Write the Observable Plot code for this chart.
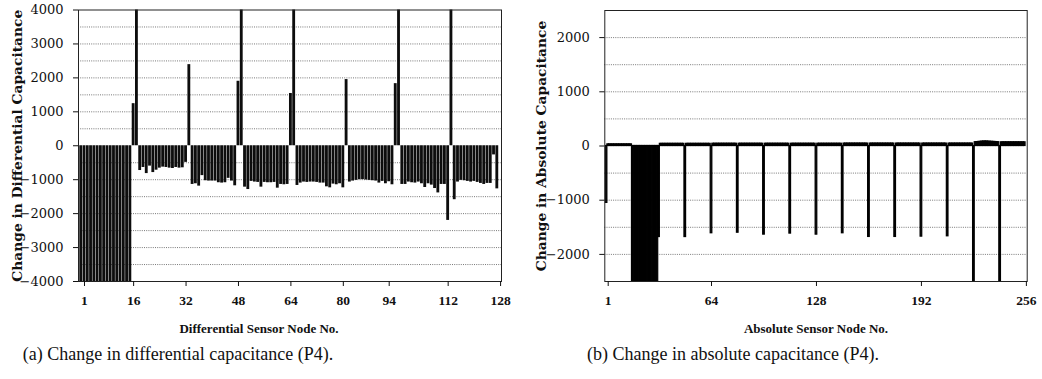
<!DOCTYPE html>
<html><head><meta charset="utf-8">
<script src="https://cdn.jsdelivr.net/npm/d3@7"></script>
<script src="https://cdn.jsdelivr.net/npm/@observablehq/plot@0.6"></script>
<style>
body{margin:0;background:#fff;}
#wrap{position:relative;width:1042px;height:379px;overflow:hidden;background:#fff;}
.panel{position:absolute;top:0;width:521px;}
.cap{position:absolute;top:343px;line-height:22px;font-family:"Liberation Serif",serif;font-size:18px;white-space:nowrap;color:#111;transform:translateX(-50%);}
</style></head><body>
<div id="wrap">
 <div class="panel" id="pa" style="left:0"></div>
 <div class="panel" id="pb" style="left:521px"></div>
 <div class="cap" id="capA" style="left:178px"></div>
 <div class="cap" id="capB" style="left:733px"></div>
</div>
<script>
// ---- Panel (a): differential capacitance ----
const diffTicks = [1, 16, 32, 48, 64, 80, 94, 112, 128];
const diffYTicks = [-4000, -3000, -2000, -1000, 0, 1000, 2000, 3000, 4000];
const diffGrid = [-3500, -3000, -2500, -2000, -1500, -1000, -500, 500, 1000, 1500, 2000, 2500, 3000, 3500];
const diffValues = [
  -4600, -4600, -4600, -4600, -4600, -4600, -4600, -4600, -4600, -4600, -4600, -4600, -4600, -4600, -4600, -4600,
  1240, 4600, -730, -640, -820, -600, -790, -720, -660, -630, -640, -660, -670, -640, -660, -650,
  -490, 2390, -1140, -1120, -1190, -880, -1030, -1040, -1040, -1040, -1090, -1100, -1090, -960, -1040, -1180,
  1900, 4600, -1220, -1290, -1050, -1070, -1080, -1220, -1080, -1090, -1090, -1080, -1250, -1140, -1150, -1140,
  1540, 4600, -1170, -1100, -1070, -1080, -1070, -1070, -1080, -1100, -1100, -1210, -1240, -1130, -1150, -1120,
  -1240, 1950, -1070, -1040, -1020, -1000, -1000, -1010, -1020, -1030, -1040, -1100, -1050, -1120, -1060, -1150,
  1830, 4600, -1140, -1140, -1070, -1090, -1100, -1070, -1120, -1230, -1120, -1160, -1260, -1390, -1140, -1140,
  -2200, 4600, -1590, -1070, -1020, -1030, -1050, -1070, -1050, -1080, -1110, -1140, -1110, -1110, -270, -1270
];
const diffYLabel = "Change in Differential Capacitance";
const diffXLabel = "Differential Sensor Node No.";
const diffCaption = "(a) Change in differential capacitance (P4).";

// ---- Panel (b): absolute capacitance ----
const absTicks = [1, 64, 128, 192, 256];
const absYTicks = [-2000, -1000, 0, 1000, 2000];
const absGrid = [-2000, -1500, -1000, -500, 500, 1000, 1500, 2000];
const absValues = [
  -1050, 30, 30, 30, 30, 30, 30, 30, 30, 30, 30, 30, 30, 30, 30, 30,
  -2800, -2800, -2800, -2800, -2800, -2800, -2800, -2800, -2800, -2800, -2800, -2800, -2800, -2800, -2800, -2800,
  -1680, 40, 40, 40, 40, 40, 40, 40, 40, 40, 40, 40, 40, 40, 40, 40,
  -1680, 40, 40, 40, 40, 40, 40, 40, 40, 40, 40, 40, 40, 40, 40, 40,
  -1610, 42, 42, 42, 42, 42, 42, 42, 42, 42, 42, 42, 42, 42, 42, 42,
  -1600, 42, 42, 42, 42, 42, 42, 42, 42, 42, 42, 42, 42, 42, 42, 42,
  -1635, 42, 42, 42, 42, 42, 42, 42, 42, 42, 42, 42, 42, 42, 42, 42,
  -1616, 42, 42, 42, 42, 42, 42, 42, 42, 42, 42, 42, 42, 42, 42, 42,
  -1635, 42, 42, 42, 42, 42, 42, 42, 42, 42, 42, 42, 42, 42, 42, 42,
  -1610, 45, 45, 45, 45, 45, 45, 45, 45, 45, 45, 45, 45, 45, 45, 45,
  -1678, 45, 45, 45, 45, 45, 45, 45, 45, 45, 45, 45, 45, 45, 45, 45,
  -1678, 45, 45, 45, 45, 45, 45, 45, 45, 45, 45, 45, 45, 45, 45, 45,
  -1672, 45, 45, 45, 45, 45, 45, 45, 45, 45, 45, 45, 45, 45, 45, 45,
  -1666, 45, 45, 45, 45, 45, 45, 45, 45, 45, 45, 45, 45, 45, 45, 45,
  -2800, 70, 72, 75, 78, 82, 84, 85, 84, 82, 80, 78, 76, 74, 72, 70,
  -2800, 68, 68, 68, 68, 68, 68, 68, 68, 68, 68, 68, 68, 68, 68, 68
];
const absYLabel = "Change in Absolute Capacitance";
const absXLabel = "Absolute Sensor Node No.";
const absCaption = "(b) Change in absolute capacitance (P4).";

const H = 340;
const fmt = d => d < 0 ? "\u2212" + Math.abs(d) : String(d);
const gridStyle = {stroke: "#444", strokeWidth: 0.9, strokeDasharray: "1,1.2", strokeOpacity: 0.8};
const svgStyle = {background: "white", color: "#111", overflow: "visible", fontFamily: "'DejaVu Serif', serif", fontSize: "12px"};

const diffData = diffValues.map((v, i) => ({node: i, value: v}));
const absData = absValues.map((v, i) => ({node: i, value: v}));

const plotA = Plot.plot({
  width: 521, height: H,
  marginLeft: 78, marginRight: 20, marginTop: 9.5, marginBottom: H - 281,
  x: {domain: [-0.83, 128.28]},
  y: {domain: [-4000, 4000]},
  style: svgStyle,
  marks: [
    Plot.ruleY(diffGrid, gridStyle),
    Plot.rectY(diffData, {x1: d => d.node - 0.5, x2: d => d.node + 0.5, y1: 0, y2: "value", fill: "#0d0d0d", insetLeft: 0.22, insetRight: 0.22, clip: true}),
    Plot.frame({stroke: "#222"}),
    Plot.axisY({ticks: diffYTicks, tickFormat: fmt, tickSize: 5, tickPadding: 10, fontSize: 13, label: null}),
    Plot.axisX({ticks: diffTicks, tickSize: 5, tickPadding: 9, fontFamily: "Liberation Serif", fontWeight: "bold", fontSize: 13.5, label: null}),
    Plot.text([diffYLabel], {text: d => d, frameAnchor: "left", textAnchor: "middle", lineAnchor: "middle", rotate: -90, dx: -61.3, fontWeight: "bold", fontSize: 13.8}),
    Plot.text([diffXLabel], {text: d => d, frameAnchor: "bottom", textAnchor: "middle", lineAnchor: "middle", dx: -31, dy: 47, fontFamily: "Liberation Serif", fontWeight: "bold", fontSize: 13})
  ]
});

const plotB = Plot.plot({
  width: 521, height: H,
  marginLeft: 83.3, marginRight: 15.3, marginTop: 10, marginBottom: H - 281,
  x: {domain: [-1.07, 256.5]},
  y: {domain: [-2500, 2500]},
  style: svgStyle,
  marks: [
    Plot.ruleY(absGrid, gridStyle),
    Plot.rectY(absData, {x1: d => d.node - 0.5, x2: d => d.node + 0.5, y1: 0, y2: "value", fill: "#000", stroke: "#000", strokeWidth: 1.2, clip: true}),
    Plot.frame({stroke: "#222"}),
    Plot.axisY({ticks: absYTicks, tickFormat: fmt, tickSize: 5, tickPadding: 10, fontSize: 13, label: null}),
    Plot.axisX({ticks: absTicks, tickSize: 5, tickPadding: 9, fontFamily: "Liberation Serif", fontWeight: "bold", fontSize: 13.5, label: null}),
    Plot.text([absYLabel], {text: d => d, frameAnchor: "left", textAnchor: "middle", lineAnchor: "middle", rotate: -90, dx: -62.8, fontWeight: "bold", fontSize: 13.8}),
    Plot.text([absXLabel], {text: d => d, frameAnchor: "bottom", textAnchor: "middle", lineAnchor: "middle", dy: 47, fontFamily: "Liberation Serif", fontWeight: "bold", fontSize: 13})
  ]
});

document.getElementById("pa").appendChild(plotA);
document.getElementById("pb").appendChild(plotB);
document.getElementById("capA").textContent = diffCaption;
document.getElementById("capB").textContent = absCaption;
</script>
</body></html>
